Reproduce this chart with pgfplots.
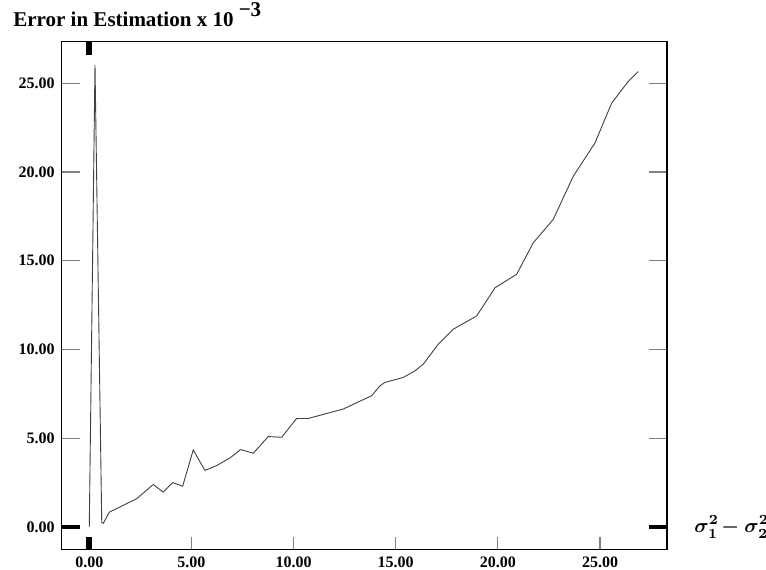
\documentclass[border=0pt]{standalone}
\usepackage{fontspec}
\setmainfont{Liberation Serif}
\usepackage{pgfplots}
\pgfplotsset{compat=1.18}
\begin{document}
\begin{tikzpicture}
\path[use as bounding box] (-30.85pt,-9.85pt) rectangle (352.15pt,274.65pt);
\begin{axis}[
  at={(0,0)}, anchor=south west,
  scale only axis, width=302.65pt, height=253.8pt,
  xmin=-1.35, xmax=28.28, ymin=-1.25, ymax=27.34,
  clip=false,
  axis line style={line width=0.6pt},
  xtick={0,5,...,25}, ytick={0,5,...,25},
  xtick pos=lower, ytick pos=both,
  tick align=inside,
  xtick style={line width=0.6pt, /pgfplots/major tick length=6pt},
  ytick style={line width=0.6pt, /pgfplots/major tick length=9pt},
  tick label style={font=\bfseries\fontsize{8}{10}\selectfont},
  x tick label style={/pgf/number format/fixed, /pgf/number format/fixed zerofill, /pgf/number format/precision=2, /pgf/number format/assume math mode=true},
  y tick label style={/pgf/number format/fixed, /pgf/number format/fixed zerofill, /pgf/number format/precision=2, /pgf/number format/assume math mode=true},
]
% error curve
\addplot[black!75, line width=0.45pt] coordinates {
  (0.00,0.00) (0.28,26.04) (0.61,0.26) (0.69,0.22) (0.98,0.84) (2.32,1.60)
  (3.13,2.40) (3.62,1.97) (4.08,2.51) (4.57,2.30) (5.09,4.35) (5.66,3.19)
  (6.24,3.47) (6.89,3.90) (7.41,4.37) (8.03,4.16) (8.76,5.10) (9.42,5.06)
  (10.15,6.12) (10.72,6.12) (12.43,6.65) (13.82,7.40) (14.23,7.96) (14.47,8.15)
  (15.37,8.43) (15.94,8.80) (16.35,9.18) (17.08,10.30) (17.82,11.15) (18.96,11.89)
  (19.86,13.48) (20.92,14.24) (21.73,16.01) (22.71,17.33) (23.69,19.76) (24.75,21.63)
  (25.57,23.88) (26.38,25.10) (26.87,25.66)
};
% heavy marks at zero
\draw[line width=2pt] (axis cs:-1.35,0) -- ([xshift=9pt]axis cs:-1.35,0);
\draw[line width=2pt] (axis cs:28.28,0) -- ([xshift=-9pt]axis cs:28.28,0);
\draw[line width=3pt] (axis cs:0,-1.25) -- ([yshift=6pt]axis cs:0,-1.25);
\draw[line width=3pt] (axis cs:0,27.34) -- ([yshift=-6.5pt]axis cs:0,27.34);
\node[anchor=base west, inner sep=0, font=\bfseries\fontsize{10.5}{12}\selectfont]
  at ([xshift=-24.35pt, yshift=7.35pt]rel axis cs:0,1) {Error in Estimation x 10 \raisebox{5pt}{−3}};
\node[anchor=west, inner sep=0, font=\boldmath\fontsize{10}{12}\selectfont]
  at ([xshift=13.5pt]axis cs:28.28,0) {$\sigma_1^2\mkern-2mu-\sigma_2^2$};
\end{axis}
\end{tikzpicture}
\end{document}
